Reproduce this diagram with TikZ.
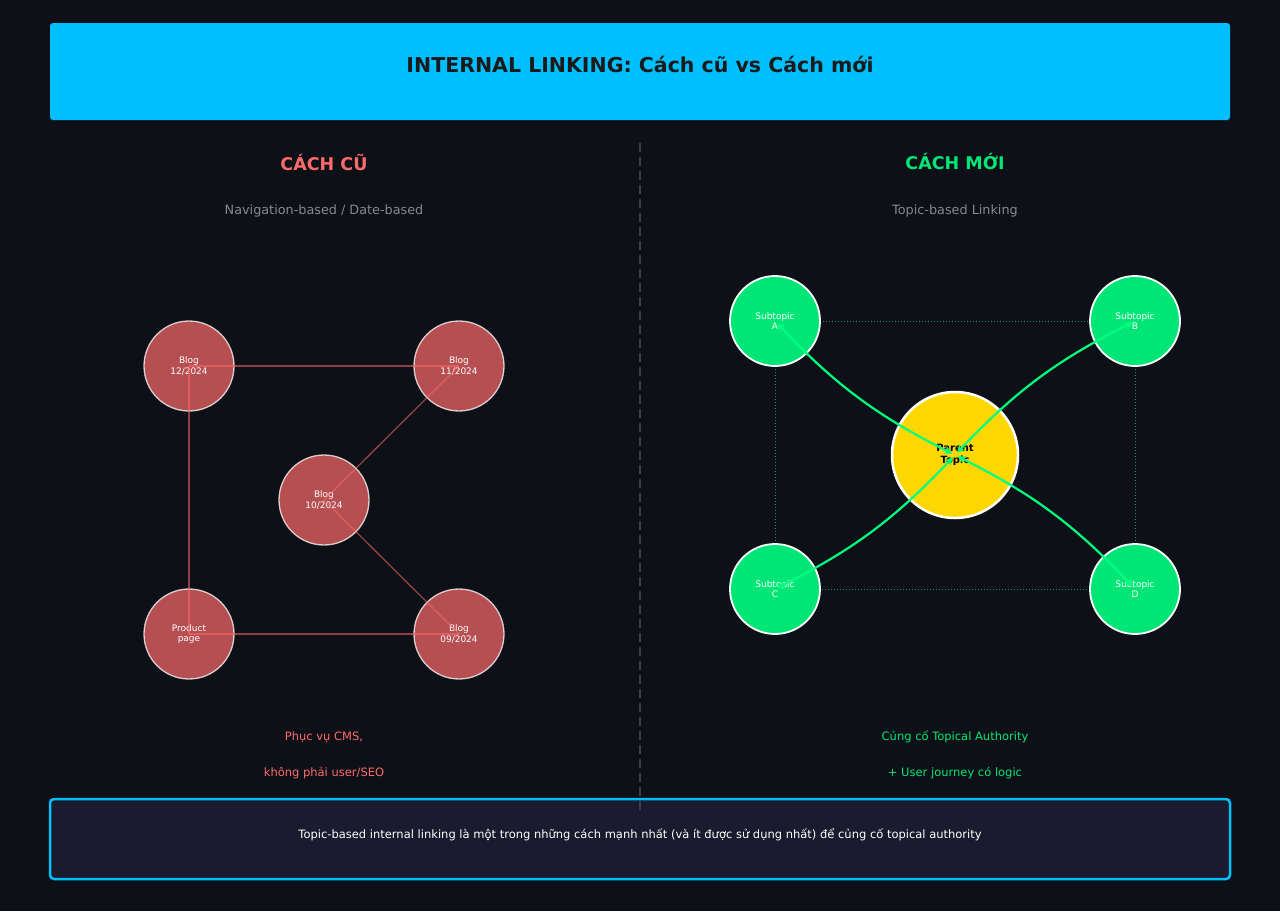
\documentclass[tikz,border=0pt]{standalone}
\usepackage{fontspec}
\setmainfont{DejaVu Sans}
\usetikzlibrary{arrows.meta}
\definecolor{bg}{HTML}{0D1017}
\definecolor{sky}{HTML}{00BFFF}
\definecolor{oldred}{HTML}{FF6B6B}
\definecolor{newgreen}{HTML}{00E676}
\definecolor{arrowgreen}{HTML}{00FF7F}
\definecolor{dotgreen}{HTML}{1F8A5C}
\definecolor{gold}{HTML}{FFD700}
\definecolor{boxbg}{HTML}{1A1B2E}
\definecolor{subgray}{HTML}{888888}
\definecolor{divgray}{HTML}{3A3F47}
\definecolor{titledark}{HTML}{1A1A1A}
\tikzset{
  oldnode/.style={circle, minimum size=90pt, inner sep=0pt, fill=oldred, fill opacity=0.7, draw=white, draw opacity=0.75, line width=1.3pt, text=white, text opacity=1, align=center, font=\fontsize{9}{10.5}\selectfont},
  newnode/.style={circle, minimum size=90pt, inner sep=0pt, fill=newgreen, draw=white, line width=1.8pt, text=white, align=center, font=\fontsize{9}{10.5}\selectfont},
  parentnode/.style={circle, minimum size=126pt, inner sep=0pt, fill=gold, draw=white, line width=2.5pt, text=black, align=center, font=\fontsize{10}{12}\selectfont\bfseries},
  oldlink/.style={draw=oldred, draw opacity=0.55, line width=1.3pt},
  dotlink/.style={draw=dotgreen, line width=1pt, dotted},
  newlink/.style={draw=arrowgreen, line width=2.2pt, {Stealth[length=8pt,width=8pt]}-{Stealth[length=8pt,width=8pt]}, bend left=10, shorten <=3pt, shorten >=3pt},
  heading/.style={font=\fontsize{17.5}{20}\selectfont\bfseries},
  subhead/.style={text=subgray, font=\fontsize{12.8}{15}\selectfont},
  foot/.style={font=\fontsize{11.5}{14}\selectfont}
}
\begin{document}
\begin{tikzpicture}[x=1pt,y=-1pt]
\useasboundingbox (0,0) rectangle (1280,911);
\fill[bg] (0,0) rectangle (1280,911);
% header
\fill[sky, rounded corners=3pt] (50,23) rectangle (1230,120);
\node[text=titledark, font=\fontsize{20.5}{24}\selectfont\bfseries] (title) at (640,64.5) {INTERNAL LINKING: Cách cũ vs Cách mới};
% bottom box
\draw[fill=boxbg, draw=sky, line width=2.5pt, rounded corners=4pt] (50,799) rectangle (1230,879);
\node[text=white, font=\fontsize{11.5}{14}\selectfont] (note) at (640,835) {Topic-based internal linking là một trong những cách mạnh nhất (và ít được sử dụng nhất) để củng cố topical authority};
% divider
\coordinate (dtop) at (640,143);
\coordinate (dbot) at (640,812);
\draw[divgray, line width=2pt, dash pattern=on 9pt off 5pt] (dtop) -- (dbot);
% headings
\node[heading, text=oldred] (oldh) at (324,162) {CÁCH CŨ};
\node[subhead] (olds) at (324,211) {Navigation-based / Date-based};
\node[heading, text=newgreen] (newh) at (955,162) {CÁCH MỚI};
\node[subhead] (news) at (955,211) {Topic-based Linking};
% old nodes
\node[oldnode] (b12) at (189,366) {Blog\\12/2024};
\node[oldnode] (b11) at (459,366) {Blog\\11/2024};
\node[oldnode] (b10) at (324,500) {Blog\\10/2024};
\node[oldnode] (prod) at (189,634) {Product\\page};
\node[oldnode] (b09) at (459,634) {Blog\\09/2024};
\draw[oldlink] (b12.center) -- (b11.center);
\draw[oldlink] (b11.center) -- (b10.center);
\draw[oldlink] (b10.center) -- (b09.center);
\draw[oldlink] (b12.center) -- (prod.center);
\draw[oldlink] (prod.center) -- (b09.center);
% new side: dotted frame
\coordinate (pA) at (775,321);
\coordinate (pB) at (1135,321);
\coordinate (pC) at (775,589);
\coordinate (pD) at (1135,589);
\draw[dotlink] (pA) -- (pB);
\draw[dotlink] (pB) -- (pD);
\draw[dotlink] (pD) -- (pC);
\draw[dotlink] (pC) -- (pA);
\node[newnode] (sA) at (pA) {Subtopic\\A};
\node[newnode] (sB) at (pB) {Subtopic\\B};
\node[newnode] (sC) at (pC) {Subtopic\\C};
\node[newnode] (sD) at (pD) {Subtopic\\D};
\node[parentnode] (par) at (955,455) {Parent\\Topic};
\draw[newlink] (par.center) to (sA.center);
\draw[newlink] (par.center) to (sB.center);
\draw[newlink] (par.center) to (sC.center);
\draw[newlink] (par.center) to (sD.center);
% footers
\node[foot, text=oldred] (of1) at (324,737) {Phục vụ CMS,};
\node[foot, text=oldred] (of2) at (324,773) {không phải user/SEO};
\node[foot, text=newgreen] (nf1) at (955,737) {Củng cố Topical Authority};
\node[foot, text=newgreen] (nf2) at (955,773) {+ User journey có logic};
\end{tikzpicture}
\end{document}
